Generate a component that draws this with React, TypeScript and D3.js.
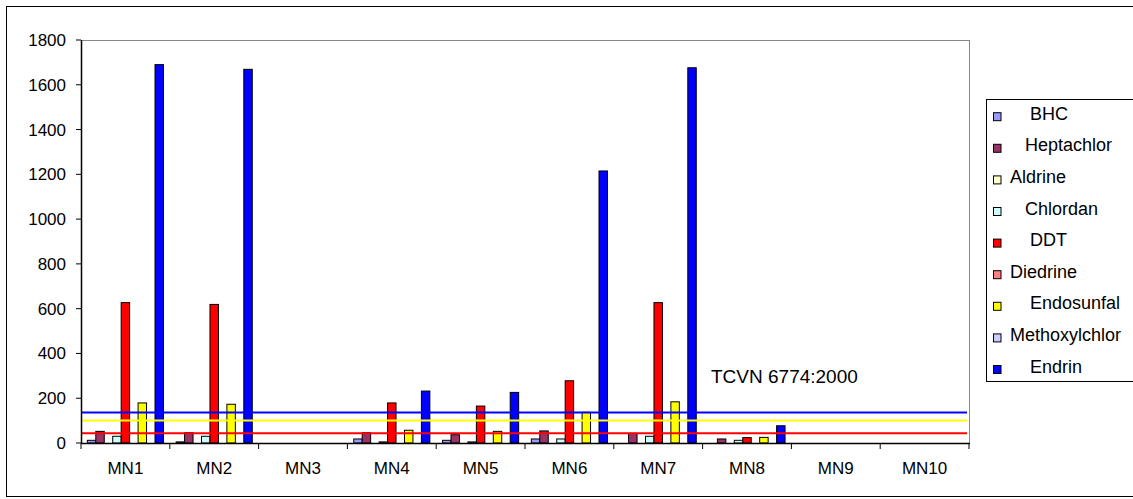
import React from "react";
import * as d3 from "d3";

// Sampling sites
const sites = ["MN1", "MN2", "MN3", "MN4", "MN5", "MN6", "MN7", "MN8", "MN9", "MN10"];

// Pesticide residues per site
const bhc = [12, 5, 0, 18, 12, 18, 0, 0, 0, 0];
const heptachlor = [52, 46, 0, 46, 37, 54, 43, 18, 0, 0];
const aldrine = [0, 0, 0, 0, 0, 0, 0, 0, 0, 0];
const chlordan = [30, 30, 0, 5, 5, 18, 30, 12, 0, 0];
const ddt = [627, 619, 0, 179, 165, 278, 627, 24, 0, 0];
const diedrine = [0, 0, 0, 0, 0, 0, 0, 0, 0, 0];
const endosunfal = [179, 173, 0, 57, 52, 137, 184, 25, 0, 0];
const methoxylchlor = [0, 0, 0, 0, 0, 0, 0, 0, 0, 0];
const endrin = [1690, 1669, 0, 232, 226, 1215, 1676, 77, 0, 0];

// Legend labels (leading spaces kept as written)
const seriesNames = [
  "    BHC",
  "   Heptachlor",
  "Aldrine",
  "   Chlordan",
  "    DDT",
  "Diedrine",
  "    Endosunfal",
  "Methoxylchlor",
  "    Endrin",
];
const seriesValues = [bhc, heptachlor, aldrine, chlordan, ddt, diedrine, endosunfal, methoxylchlor, endrin];

// TCVN 6774:2000 limits: Endrin, Endosunfal, DDT
const limitValues = [136, 100, 44];
const limitLabel = "TCVN 6774:2000";

const yTicks = [0, 200, 400, 600, 800, 1000, 1200, 1400, 1600, 1800];

const seriesColors = ["#9999FF", "#993366", "#FFFFCC", "#CCFFFF", "#FF0000", "#FF8080", "#FFFF00", "#CCCCFF", "#0000FF"];
const limitColors = ["#0000FF", "#FFFF00", "#FF0000"];

const FONT = "'Liberation Sans', Arial, sans-serif";

export default function App() {
  const W = 1133;
  const H = 499;
  const left = 81;
  const right = 969;
  const top = 40;
  const bottom = 443;

  const x = d3.scaleBand<string>().domain(sites).range([left, right]).paddingInner(0).paddingOuter(0);
  const xs = d3
    .scaleBand<number>()
    .domain(d3.range(seriesNames.length))
    .range([0, x.bandwidth()])
    .paddingInner(0)
    .paddingOuter(0.75);
  const y = d3.scaleLinear().domain([0, 1800]).range([bottom, top]);

  const legendX = 986;
  const legendY = 99.5;
  const rowH = 31.6;

  return (
    <svg
      width={W}
      height={H}
      style={{ position: "absolute", left: 0, top: 0, background: "#fff" }}
      fontFamily={FONT}
    >
      <rect x={0} y={0} width={W} height={H} fill="#fff" />
      {/* chart frame */}
      <rect x={6.5} y={6.5} width={1140} height={490} fill="none" stroke="#000" strokeWidth={1} />

      {/* plot area border */}
      <line x1={left} x2={right} y1={top + 0.5} y2={top + 0.5} stroke="#888" strokeWidth={1} />
      <line x1={right + 0.5} x2={right + 0.5} y1={top} y2={bottom} stroke="#888" strokeWidth={1} />

      {/* bars */}
      {seriesValues.map((vals, si) =>
        vals.map((v, ci) =>
          v > 0 ? (
            <rect
              key={`${si}-${ci}`}
              x={(x(sites[ci]) as number) + (xs(si) as number)}
              y={y(v)}
              width={xs.bandwidth()}
              height={bottom - y(v)}
              fill={seriesColors[si]}
              stroke="#000"
              strokeWidth={1}
            />
          ) : null
        )
      )}

      {/* limit lines */}
      {limitValues.map((v, i) => (
        <line
          key={i}
          x1={left}
          x2={right - 2}
          y1={y(v)}
          y2={y(v)}
          stroke={limitColors[i]}
          strokeWidth={2}
        />
      ))}
      <text x={711} y={383} fontSize={19} fill="#000">
        {limitLabel}
      </text>

      {/* y axis */}
      <line x1={left + 0.5} x2={left + 0.5} y1={top} y2={bottom} stroke="#000" strokeWidth={1.5} />
      {yTicks.map((t) => (
        <g key={t}>
          <line x1={left - 5} x2={left} y1={y(t)} y2={y(t)} stroke="#000" strokeWidth={1} />
          <text x={66} y={y(t)} dy="0.35em" textAnchor="end" fontSize={17} fill="#000">
            {t}
          </text>
        </g>
      ))}

      {/* x axis */}
      <line x1={left} x2={right + 1} y1={bottom + 0.5} y2={bottom + 0.5} stroke="#000" strokeWidth={1.5} />
      {d3.range(sites.length + 1).map((i) => {
        const xx = left + i * x.step();
        return <line key={i} x1={xx} x2={xx} y1={bottom} y2={bottom + 6} stroke="#000" strokeWidth={1} />;
      })}
      {sites.map((s) => (
        <text
          key={s}
          x={(x(s) as number) + x.bandwidth() / 2}
          y={474}
          textAnchor="middle"
          fontSize={17}
          fill="#000"
        >
          {s}
        </text>
      ))}

      {/* legend */}
      <rect x={legendX + 0.5} y={legendY} width={200} height={282} fill="#fff" stroke="#000" strokeWidth={1} />
      {seriesNames.map((name, i) => {
        const cy = 116.7 + i * rowH;
        return (
          <g key={name}>
            <rect x={993.5} y={cy - 4} width={7.5} height={8} fill={seriesColors[i]} stroke="#000" strokeWidth={1} />
            <text
              x={1010}
              y={cy + 3}
              fontSize={18}
              fill="#000"
              style={{ whiteSpace: "pre" }}
              xmlSpace="preserve"
            >
              {name}
            </text>
          </g>
        );
      })}
    </svg>
  );
}
